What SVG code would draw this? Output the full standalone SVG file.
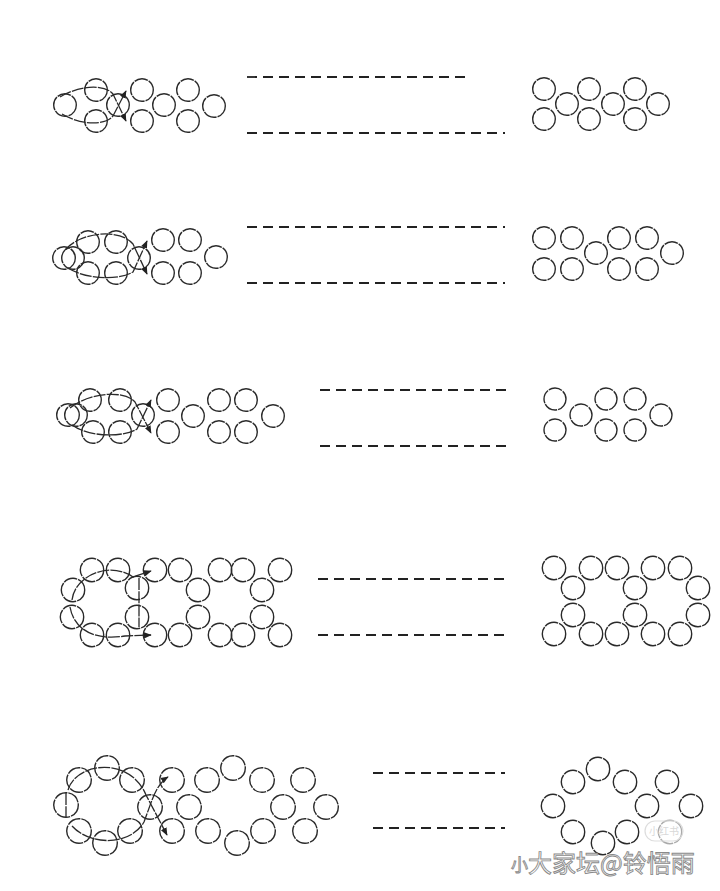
<svg xmlns="http://www.w3.org/2000/svg" width="720" height="891" viewBox="0 0 720 891">
<defs>
<style>
.c{fill:none;stroke:#2a2a2a;stroke-width:1.4;stroke-dasharray:14 1}
.d{fill:none;stroke:#222;stroke-width:1.8;stroke-dasharray:10 6}
.p{fill:none;stroke:#2a2a2a;stroke-width:1.3;stroke-dasharray:12 1.2}
.wm{font-family:"Noto Sans CJK SC","Noto Sans",sans-serif;fill:#ffffff;stroke:#8a8a8a;stroke-width:0.9}
</style>
<marker id="ah" viewBox="0 0 10 10" refX="9" refY="5" markerWidth="6" markerHeight="6" orient="auto">
<path d="M0,1 L10,5 L0,9 Z" fill="#222"/>
</marker>
</defs>
<rect width="720" height="891" fill="#fff"/>

<g id="row1-left">
<circle class="c" cx="65" cy="105" r="11.3"/>
<circle class="c" cx="96" cy="90" r="11.3"/>
<circle class="c" cx="96" cy="121" r="11.3"/>
<circle class="c" cx="118" cy="105" r="11.3"/>
<circle class="c" cx="142" cy="90" r="11.3"/>
<circle class="c" cx="142" cy="121" r="11.3"/>
<circle class="c" cx="164" cy="105" r="11.3"/>
<circle class="c" cx="188" cy="90" r="11.3"/>
<circle class="c" cx="188" cy="121" r="11.3"/>
<circle class="c" cx="214" cy="106" r="11.3"/>
</g>
<g id="row1-right">
<circle class="c" cx="544" cy="89" r="11.3"/>
<circle class="c" cx="544" cy="119" r="11.3"/>
<circle class="c" cx="567" cy="104" r="11.3"/>
<circle class="c" cx="589" cy="89" r="11.3"/>
<circle class="c" cx="589" cy="119" r="11.3"/>
<circle class="c" cx="613" cy="104" r="11.3"/>
<circle class="c" cx="635" cy="89" r="11.3"/>
<circle class="c" cx="635" cy="119" r="11.3"/>
<circle class="c" cx="658" cy="104" r="11.3"/>
</g>

<g id="row2-left">
<circle class="c" cx="64" cy="258" r="11.3"/>
<circle class="c" cx="73" cy="258" r="11.3"/>
<circle class="c" cx="88" cy="242" r="11.3"/>
<circle class="c" cx="88" cy="273" r="11.3"/>
<circle class="c" cx="116" cy="242" r="11.3"/>
<circle class="c" cx="116" cy="273" r="11.3"/>
<circle class="c" cx="139" cy="258" r="11.3"/>
<circle class="c" cx="163" cy="240" r="11.3"/>
<circle class="c" cx="163" cy="273" r="11.3"/>
<circle class="c" cx="190" cy="240" r="11.3"/>
<circle class="c" cx="190" cy="273" r="11.3"/>
<circle class="c" cx="216" cy="257" r="11.3"/>
</g>
<g id="row2-right">
<circle class="c" cx="544" cy="238" r="11.3"/>
<circle class="c" cx="572" cy="238" r="11.3"/>
<circle class="c" cx="544" cy="269" r="11.3"/>
<circle class="c" cx="572" cy="269" r="11.3"/>
<circle class="c" cx="596" cy="253" r="11.3"/>
<circle class="c" cx="619" cy="238" r="11.3"/>
<circle class="c" cx="647" cy="238" r="11.3"/>
<circle class="c" cx="619" cy="269" r="11.3"/>
<circle class="c" cx="647" cy="269" r="11.3"/>
<circle class="c" cx="672" cy="253" r="11.3"/>
</g>

<g id="row3-left">
<circle class="c" cx="68" cy="415" r="11.3"/>
<circle class="c" cx="76" cy="415" r="11.3"/>
<circle class="c" cx="90" cy="400" r="11.3"/>
<circle class="c" cx="120" cy="400" r="11.3"/>
<circle class="c" cx="93" cy="432" r="11.3"/>
<circle class="c" cx="120" cy="432" r="11.3"/>
<circle class="c" cx="143" cy="415" r="11.3"/>
<circle class="c" cx="168" cy="400" r="11.3"/>
<circle class="c" cx="168" cy="432" r="11.3"/>
<circle class="c" cx="193" cy="416" r="11.3"/>
<circle class="c" cx="219" cy="400" r="11.3"/>
<circle class="c" cx="219" cy="432" r="11.3"/>
<circle class="c" cx="246" cy="400" r="11.3"/>
<circle class="c" cx="246" cy="432" r="11.3"/>
<circle class="c" cx="273" cy="416" r="11.3"/>
</g>
<g id="row3-right">
<circle class="c" cx="555" cy="399" r="11"/>
<circle class="c" cx="555" cy="430" r="11"/>
<circle class="c" cx="581" cy="415" r="11"/>
<circle class="c" cx="606" cy="399" r="11"/>
<circle class="c" cx="606" cy="430" r="11"/>
<circle class="c" cx="635" cy="399" r="11"/>
<circle class="c" cx="635" cy="430" r="11"/>
<circle class="c" cx="661" cy="415" r="11"/>
</g>

<g id="row4-left">
<circle class="c" cx="92" cy="570" r="11.7"/>
<circle class="c" cx="118" cy="570" r="11.7"/>
<circle class="c" cx="73" cy="590" r="11.7"/>
<circle class="c" cx="72" cy="617" r="11.7"/>
<circle class="c" cx="92" cy="635" r="11.7"/>
<circle class="c" cx="118" cy="635" r="11.7"/>
<circle class="c" cx="137" cy="588" r="11.7"/>
<circle class="c" cx="137" cy="617" r="11.7"/>
<circle class="c" cx="155" cy="570" r="11.7"/>
<circle class="c" cx="155" cy="635" r="11.7"/>
<circle class="c" cx="180" cy="570" r="11.7"/>
<circle class="c" cx="180" cy="635" r="11.7"/>
<circle class="c" cx="198" cy="590" r="11.7"/>
<circle class="c" cx="198" cy="617" r="11.7"/>
<circle class="c" cx="220" cy="570" r="11.7"/>
<circle class="c" cx="220" cy="635" r="11.7"/>
<circle class="c" cx="243" cy="570" r="11.7"/>
<circle class="c" cx="243" cy="635" r="11.7"/>
<circle class="c" cx="262" cy="590" r="11.7"/>
<circle class="c" cx="262" cy="617" r="11.7"/>
<circle class="c" cx="280" cy="570" r="11.7"/>
<circle class="c" cx="280" cy="635" r="11.7"/>
</g>
<g id="row4-right">
<circle class="c" cx="554" cy="568" r="11.7"/>
<circle class="c" cx="591" cy="568" r="11.7"/>
<circle class="c" cx="617" cy="568" r="11.7"/>
<circle class="c" cx="653" cy="568" r="11.7"/>
<circle class="c" cx="680" cy="568" r="11.7"/>
<circle class="c" cx="573" cy="588" r="11.7"/>
<circle class="c" cx="635" cy="588" r="11.7"/>
<circle class="c" cx="698" cy="588" r="11.7"/>
<circle class="c" cx="573" cy="615" r="11.7"/>
<circle class="c" cx="635" cy="615" r="11.7"/>
<circle class="c" cx="698" cy="615" r="11.7"/>
<circle class="c" cx="554" cy="634" r="11.7"/>
<circle class="c" cx="591" cy="634" r="11.7"/>
<circle class="c" cx="617" cy="634" r="11.7"/>
<circle class="c" cx="653" cy="634" r="11.7"/>
<circle class="c" cx="680" cy="634" r="11.7"/>
</g>

<g id="row5-left">
<circle class="c" cx="107" cy="768" r="12.3"/>
<circle class="c" cx="79" cy="780" r="12.3"/>
<circle class="c" cx="132" cy="780" r="12.3"/>
<circle class="c" cx="66" cy="805" r="12.3"/>
<circle class="c" cx="79" cy="831" r="12.3"/>
<circle class="c" cx="105" cy="843" r="12.3"/>
<circle class="c" cx="130" cy="831" r="12.3"/>
<circle class="c" cx="150" cy="807" r="12.3"/>
<circle class="c" cx="172" cy="780" r="12.3"/>
<circle class="c" cx="172" cy="831" r="12.3"/>
<circle class="c" cx="189" cy="807" r="12.3"/>
<circle class="c" cx="207" cy="780" r="12.3"/>
<circle class="c" cx="233" cy="768" r="12.3"/>
<circle class="c" cx="262" cy="780" r="12.3"/>
<circle class="c" cx="208" cy="831" r="12.3"/>
<circle class="c" cx="237" cy="843" r="12.3"/>
<circle class="c" cx="263" cy="831" r="12.3"/>
<circle class="c" cx="283" cy="807" r="12.3"/>
<circle class="c" cx="303" cy="780" r="12.3"/>
<circle class="c" cx="326" cy="807" r="12.3"/>
<circle class="c" cx="305" cy="831" r="12.3"/>
</g>
<g id="row5-right">
<circle class="c" cx="598" cy="769" r="11.7"/>
<circle class="c" cx="573" cy="782" r="11.7"/>
<circle class="c" cx="625" cy="782" r="11.7"/>
<circle class="c" cx="553" cy="806" r="11.7"/>
<circle class="c" cx="667" cy="782" r="11.7"/>
<circle class="c" cx="647" cy="806" r="11.7"/>
<circle class="c" cx="691" cy="806" r="11.7"/>
<circle class="c" cx="573" cy="832" r="11.7"/>
<circle class="c" cx="603" cy="843" r="11.7"/>
<circle class="c" cx="627" cy="832" r="11.7"/>
<circle class="c" cx="670" cy="832" r="11.7" stroke-opacity="0.4"/>
</g>

<g id="connectors">
<path class="p" d="M60,97 C80,85 105,84 113,94 L126,121" marker-end="url(#ah)"/>
<path class="p" d="M62,114 C80,125 105,126 113,116 L126,91" marker-end="url(#ah)"/>
<path class="p" d="M65,250 C80,232 120,228 133,244 L147,274" marker-end="url(#ah)"/>
<path class="p" d="M68,268 C85,279 118,281 133,272 L147,241" marker-end="url(#ah)"/>
<path class="p" d="M70,408 C90,392 125,390 135,402 L151,433" marker-end="url(#ah)"/>
<path class="p" d="M72,425 C90,438 125,437 137,429 L151,400" marker-end="url(#ah)"/>
<path class="p" d="M72,600 C75,575 110,561 133,577 L151,571" marker-end="url(#ah)"/>
<path class="p" d="M70,607 C74,630 95,641 125,636 L151,635" marker-end="url(#ah)"/>
<path class="p" d="M139,578 L139,627"/>
<path class="p" d="M66,793 L66,817"/>
<path class="p" d="M68,790 C76,762 130,756 146,795 L167,835" marker-end="url(#ah)"/>
<path class="p" d="M72,826 C90,846 130,846 144,822 L152,800 C156,790 160,782 168,777" marker-end="url(#ah)"/>

<path class="d" d="M247,77 H470"/>
<path class="d" d="M247,133 H505"/>
<path class="d" d="M247,227 H505"/>
<path class="d" d="M247,283 H505"/>
<path class="d" d="M320,390 H508"/>
<path class="d" d="M320,446 H508"/>
<path class="d" d="M318,579 H507"/>
<path class="d" d="M318,635 H507"/>
<path class="d" d="M373,773 H505"/>
<path class="d" d="M373,828 H505"/>
</g>

<g id="watermark">
<rect x="645" y="821" width="38" height="20" rx="10" fill="none" stroke="#ddd" stroke-width="1.2"/>
<text x="664" y="835" font-size="10" text-anchor="middle" fill="#d8d8d8" font-family="Noto Sans CJK SC, sans-serif">小红书</text>
<text class="wm" x="511" y="871" font-size="17">小</text>
<text class="wm" x="528" y="872" font-size="24">大家坛@铃悟雨</text>
</g>
</svg>
